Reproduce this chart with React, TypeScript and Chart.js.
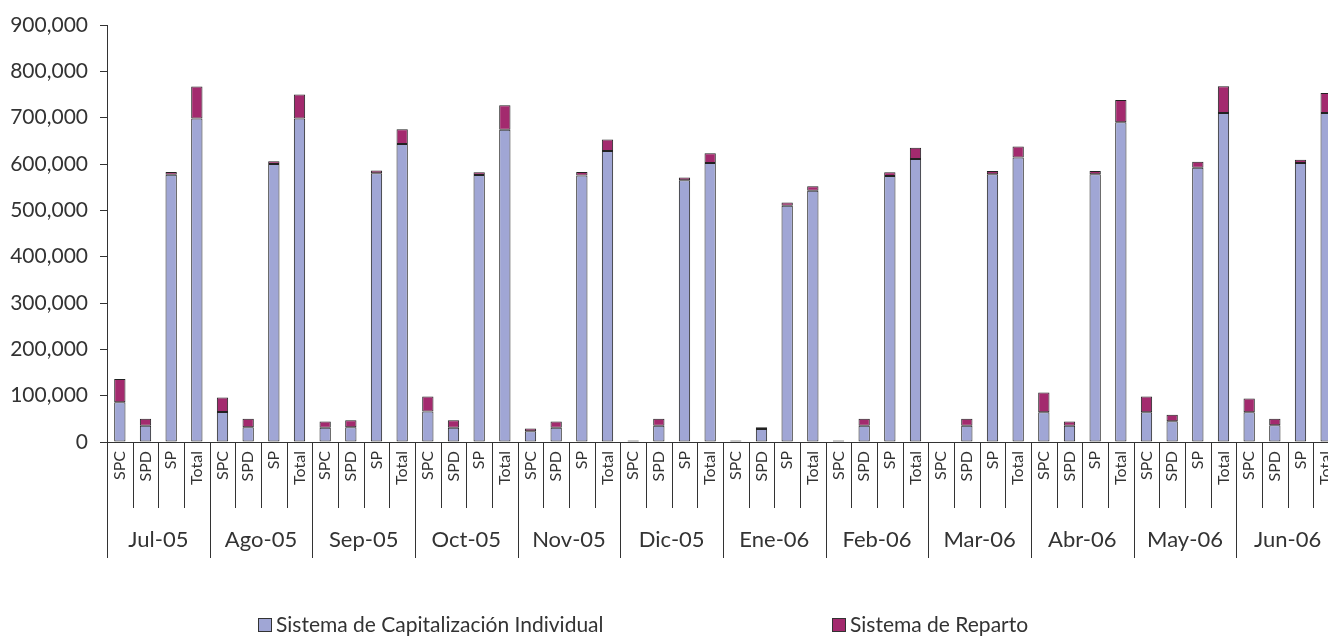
import React, { useEffect, useRef } from "react";
import { Chart, registerables } from "chart.js";

Chart.register(...registerables);

const months = ["Jul-05", "Ago-05", "Sep-05", "Oct-05", "Nov-05", "Dic-05", "Ene-06", "Feb-06", "Mar-06", "Abr-06", "May-06", "Jun-06"];
const subLabels = ["SPC", "SPD", "SP", "Total"];

// Sistema de Capitalización Individual (SPC, SPD, SP, Total per month)
const individualValues = [
  86000, 35000, 577000, 698000,
  65000, 32000, 600000, 698000,
  31000, 32000, 580000, 643000,
  66000, 31000, 576000, 674000,
  23000, 31000, 575000, 628000,
  2000, 35000, 565000, 602000,
  2000, 28000, 510000, 542000,
  2000, 35000, 574000, 611000,
  0, 35000, 578000, 614000,
  64000, 35000, 578000, 690000,
  64000, 45000, 592000, 710000,
  64000, 36000, 602000, 710000,
];

// Sistema de Reparto
const repartoValues = [
  50000, 15000, 6000, 69000,
  31000, 18000, 6000, 52000,
  13000, 15000, 6000, 32000,
  32000, 16000, 6000, 53000,
  6000, 13000, 8000, 25000,
  1000, 15000, 6000, 21000,
  1000, 4000, 7000, 10000,
  1000, 15000, 8000, 24000,
  0, 15000, 7000, 24000,
  43000, 9000, 7000, 48000,
  34000, 14000, 13000, 58000,
  30000, 14000, 7000, 43000,
];

const yTicks = [0, 100000, 200000, 300000, 400000, 500000, 600000, 700000, 800000, 900000];

const seriesNames = ["Sistema de Capitalización Individual", "Sistema de Reparto"];
const seriesColors = ["#A0A6D5", "#A32A6E"];
const lineColor = "#333333";
const textColor = "#333333";
const FONT = "Lato";

const categoryLabels = months.flatMap((m) => subLabels.map((s) => `${m} ${s}`));

const groupAxisPlugin = {
  id: "groupAxis",
  afterDraw(chart: any) {
    const ctx = chart.ctx;
    const xs = chart.scales.x;
    const n = chart.data.labels.length;
    const catW = (xs.right - xs.left) / n;
    const base = xs.top;
    ctx.save();
    ctx.strokeStyle = lineColor;
    ctx.lineWidth = 1;
    // separators
    for (let k = 0; k <= n; k++) {
      const bx = Math.round(xs.left + k * catW) + 0.5;
      const isMonth = k % subLabels.length === 0;
      ctx.beginPath();
      ctx.moveTo(bx, base);
      ctx.lineTo(bx, base + (isMonth ? 116 : 66));
      ctx.stroke();
    }
    // sub labels rotated
    ctx.fillStyle = textColor;
    ctx.font = `16px ${FONT}`;
    ctx.textAlign = "right";
    ctx.textBaseline = "middle";
    for (let i = 0; i < n; i++) {
      const cx = xs.getPixelForValue(i);
      ctx.save();
      ctx.translate(cx, base + 9);
      ctx.rotate(-Math.PI / 2);
      ctx.fillText(subLabels[i % subLabels.length], 0, 0);
      ctx.restore();
    }
    // month labels
    ctx.font = `22px ${FONT}`;
    ctx.textAlign = "center";
    ctx.textBaseline = "middle";
    months.forEach((m, j) => {
      const cx = xs.left + (j + 0.5) * subLabels.length * catW;
      ctx.fillText(m, cx, base + 98);
    });
    // legend
    ctx.font = `21px ${FONT}`;
    ctx.textAlign = "left";
    ctx.textBaseline = "middle";
    const legendX = [258, 832];
    const legendMid = 625;
    chart.data.datasets.forEach((ds: any, i: number) => {
      const lx = legendX[i];
      ctx.fillStyle = ds.backgroundColor;
      ctx.fillRect(lx, legendMid - 7, 14, 14);
      ctx.strokeStyle = lineColor;
      ctx.strokeRect(lx + 0.5, legendMid - 6.5, 13, 13);
      ctx.fillStyle = textColor;
      ctx.fillText(ds.label, lx + 18, legendMid);
    });
    ctx.restore();
  },
};

export default function App() {
  const canvasRef = useRef<HTMLCanvasElement>(null);

  useEffect(() => {
    if (!canvasRef.current) return;
    const chart = new Chart(canvasRef.current, {
      type: "bar",
      data: {
        labels: categoryLabels,
        datasets: [
          {
            label: seriesNames[0],
            data: individualValues,
            backgroundColor: seriesColors[0],
            borderColor: "#222222",
            borderWidth: 1,
            borderSkipped: false,
            barPercentage: 0.44,
            categoryPercentage: 1,
          },
          {
            label: seriesNames[1],
            data: repartoValues,
            backgroundColor: seriesColors[1],
            borderColor: "#222222",
            borderWidth: 1,
            borderSkipped: false,
            barPercentage: 0.44,
            categoryPercentage: 1,
          },
        ],
      },
      options: {
        animation: false,
        responsive: false,
        maintainAspectRatio: false,
        layout: { padding: { top: 25, right: 21, left: 0, bottom: 0 } },
        plugins: { legend: { display: false }, tooltip: { enabled: false } },
        scales: {
          x: {
            stacked: true,
            grid: { display: false },
            border: { display: true, color: lineColor, width: 1 },
            ticks: { display: false },
            afterFit: (scale: any) => {
              scale.height = 197;
            },
          },
          y: {
            stacked: true,
            min: 0,
            max: 900000,
            afterBuildTicks: (scale: any) => {
              scale.ticks = yTicks.map((v) => ({ value: v }));
            },
            grid: {
              display: true,
              drawOnChartArea: false,
              drawTicks: true,
              tickLength: 7,
              color: lineColor,
            },
            border: { display: true, color: lineColor, width: 1 },
            ticks: {
              padding: 12,
              color: textColor,
              font: { family: FONT, size: 21 },
              callback: (v: any) => Number(v).toLocaleString("en-US"),
            },
            afterFit: (scale: any) => {
              scale.width = 107;
            },
          },
        },
      },
      plugins: [groupAxisPlugin],
    });
    return () => chart.destroy();
  }, []);

  return (
    <div style={{ position: "fixed", left: 0, top: 0, width: 1360, height: 639, background: "#fff" }}>
      <canvas ref={canvasRef} width={1360} height={639} style={{ width: 1360, height: 639, display: "block" }} />
    </div>
  );
}
